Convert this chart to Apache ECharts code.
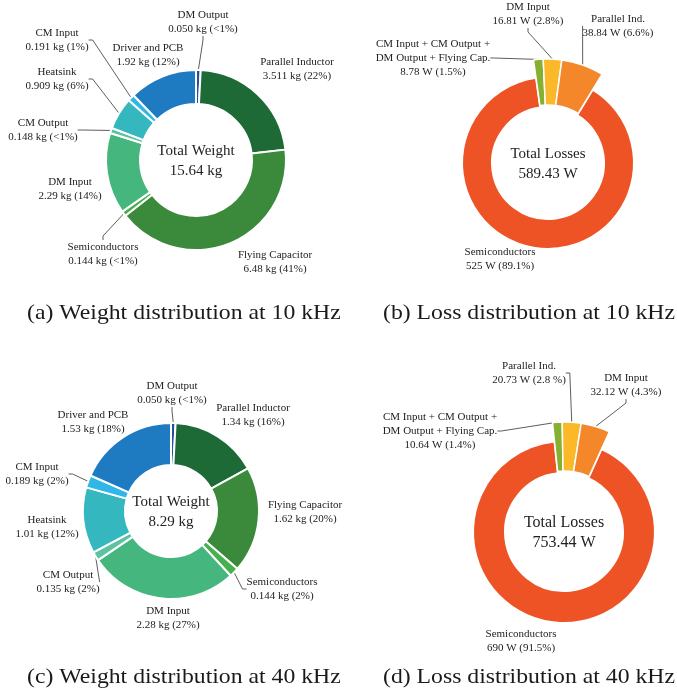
<!DOCTYPE html>
<html>
<head>
<meta charset="UTF-8">
<title>Weight and loss distribution</title>
<script src="https://cdn.jsdelivr.net/npm/echarts@6/dist/echarts.min.js"></script>
<style>
  html, body { margin: 0; padding: 0; background: #fff; }
  #chart { width: 677px; height: 691px; }
</style>
</head>
<body>
<div id="chart"></div>
<script>
// ---- data ----
var weightNames = ['DM Output', 'Parallel Inductor', 'Flying Capacitor', 'Semiconductors', 'DM Input',
  'CM Output', 'Heatsink', 'CM Input', 'Driver and PCB'];
var weight10k = [0.050, 3.511, 6.48, 0.144, 2.29, 0.148, 0.909, 0.191, 1.92];
var weight10kPct = ['<1%', '22%', '41%', '<1%', '14%', '<1%', '6%', '1%', '12%'];
var weight40k = [0.050, 1.34, 1.62, 0.144, 2.28, 0.135, 1.01, 0.189, 1.53];
var weight40kPct = ['<1%', '16%', '20%', '2%', '27%', '2%', '12%', '2%', '18%'];

var loss10kNames = ['CM Input + CM Output +\nDM Output + Flying Cap.', 'DM Input', 'Parallel Ind.', 'Semiconductors'];
var loss10k = [8.78, 16.81, 38.84, 525];
var loss10kPct = ['1.5%', '2.8%', '6.6%', '89.1%'];
var loss40kNames = ['CM Input + CM Output +\nDM Output + Flying Cap.', 'Parallel Ind.', 'DM Input', 'Semiconductors'];
var loss40k = [10.64, 20.73, 32.12, 690];
var loss40kPct = ['1.4%', '2.8 %', '4.3%', '91.5%'];

var totalTexts = ['Total Weight\n15.64 kg', 'Total Losses\n589.43 W', 'Total Weight\n8.29 kg', 'Total Losses\n753.44 W'];
var captions = ['(a) Weight distribution at 10 kHz', '(b) Loss distribution at 10 kHz',
  '(c) Weight distribution at 40 kHz', '(d) Loss distribution at 40 kHz'];

// ---- styles ----
var serif = '"Liberation Serif", "Times New Roman", serif';
var weightColors = ['#2a4f9e', '#1d6a36', '#3b8a3b', '#45b04c', '#45b67e', '#5ec2a2', '#35b7bf', '#31b6e8', '#1f7bc1'];
var loss10kColors = ['#86b030', '#fbb829', '#f3872a', '#ee5326'];
var loss40kColors = ['#86b030', '#fbb829', '#f3872a', '#ee5326'];

// label anchor positions (px)
var posA = [[203, 22], [297, 69], [275, 262], [103, 254], [70, 189], [43, 130], [57, 79], [57, 40], [148, 55]];
var lineA = [true, false, false, true, false, true, true, true, false];
var posC = [[172, 393], [253, 415], [305, 512], [282, 589], [168, 618], [68, 582], [47, 527], [37, 474], [93, 422]];
var lineC = [true, false, false, true, false, true, false, true, false];
var posB = [[433, 58], [528, 14], [618, 26], [500, 259]];
var posD = [[440, 431], [529, 373], [626, 385], [521, 641]];

function fmt(v) {
  return v < 0.1 ? v.toFixed(3) : String(v);
}

function layoutAt(pos) {
  return function(p) {
    var q = pos[p.dataIndex];
    return { x: q[0], y: q[1], align: 'center', verticalAlign: 'middle' };
  };
}

var labelBase = { fontFamily: serif, fontSize: 11, lineHeight: 14, color: '#222', align: 'center' };
var lineBase = { show: true, length: 4, length2: 4, smooth: false, lineStyle: { color: '#333', width: 0.8 } };

function weightSeries(values, pcts, center, radius, pos, lines) {
  return {
    type: 'pie',
    center: center,
    radius: radius,
    startAngle: 90,
    minAngle: 3,
    avoidLabelOverlap: false,
    silent: true,
    itemStyle: { borderColor: '#fff', borderWidth: 2 },
    label: Object.assign({}, labelBase, {
      formatter: function(p) { return p.name + '\n' + fmt(p.value) + ' kg (' + pcts[p.dataIndex] + ')'; }
    }),
    labelLine: lineBase,
    labelLayout: layoutAt(pos),
    data: values.map(function(v, i) {
      return { name: weightNames[i], value: v, itemStyle: { color: weightColors[i] }, labelLine: { show: lines[i] } };
    })
  };
}

// loss charts: ring for the big slice, small slices drawn again with a larger radius
function lossSeries(names, values, pcts, colors, center, ring, outRing, startAngle, pos) {
  var last = values.length - 1;
  var fmtLabel = function(p) { return p.name + '\n' + fmt(p.value) + ' W (' + pcts[p.dataIndex] + ')'; };
  var base = {
    type: 'pie', center: center, startAngle: startAngle, avoidLabelOverlap: false, silent: true,
    label: Object.assign({}, labelBase, { formatter: fmtLabel }),
    labelLine: lineBase,
    labelLayout: layoutAt(pos)
  };
  var ringS = Object.assign({}, base, {
    radius: ring,
    data: values.map(function(v, i) {
      var big = i === last;
      return {
        name: names[i], value: v,
        itemStyle: big ? { color: colors[i], borderColor: '#fff', borderWidth: 2 } : { color: 'rgba(0,0,0,0)', borderWidth: 0 },
        label: { show: big },
        labelLine: { show: false }
      };
    })
  });
  var outS = Object.assign({}, base, {
    radius: outRing,
    data: values.map(function(v, i) {
      var big = i === last;
      return {
        name: names[i], value: v,
        itemStyle: big ? { color: 'rgba(0,0,0,0)', borderWidth: 0 } : { color: colors[i], borderColor: '#fff', borderWidth: 1.5 },
        label: { show: !big },
        labelLine: { show: !big }
      };
    })
  });
  return [ringS, outS];
}

var centers = [[196, 160], [548, 163], [171, 511], [564, 532]];

var series = [];
series.push(weightSeries(weight10k, weight10kPct, centers[0], [56, 90], posA, lineA));
series = series.concat(lossSeries(loss10kNames, loss10k, loss10kPct, loss10kColors, centers[1], [56, 86], [58, 104], 98, posB));
series.push(weightSeries(weight40k, weight40kPct, centers[2], [46, 88], posC, lineC));
series = series.concat(lossSeries(loss40kNames, loss40k, loss40kPct, loss40kColors, centers[3], [59, 91], [61, 110], 96, posD));

var graphics = [];
centers.forEach(function(c, i) {
  graphics.push({
    type: 'text', x: c[0], y: c[1] + 1, silent: true,
    style: {
      text: totalTexts[i], font: (i === 3 ? 16 : 15) + 'px ' + serif, fill: '#222',
      textAlign: 'center', textVerticalAlign: 'middle', lineHeight: 20
    }
  });
});
var capPos = [[27, 313], [383, 313], [27, 677], [383, 677]];
captions.forEach(function(t, i) {
  graphics.push({
    type: 'text', x: capPos[i][0], y: capPos[i][1], scaleX: 1.13, silent: true,
    style: { text: t, font: '21px ' + serif, fill: '#1a1a1a', textAlign: 'left', textVerticalAlign: 'middle' }
  });
});

var myChart = echarts.init(document.getElementById('chart'));
myChart.setOption({
  backgroundColor: '#fff',
  animation: false,
  series: series,
  graphic: graphics
});
</script>
</body>
</html>
